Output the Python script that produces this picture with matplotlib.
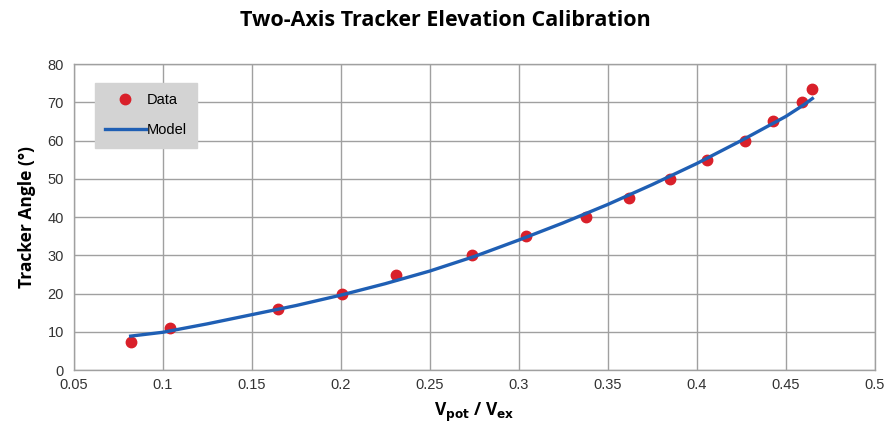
import matplotlib
matplotlib.use('Agg')
import matplotlib.pyplot as plt

data_ratio = [0.082, 0.104, 0.165, 0.201, 0.231, 0.274, 0.304, 0.338,
              0.362, 0.385, 0.406, 0.427, 0.443, 0.459, 0.465]
data_angle = [7.3, 11.0, 16.0, 20.0, 25.0, 30.0, 35.0, 40.0,
              45.0, 50.0, 55.0, 60.0, 65.0, 70.0, 73.5]

# model curve
model_ratio = [0.082, 0.1, 0.125, 0.15, 0.175, 0.2, 0.225, 0.25, 0.275,
               0.3, 0.325, 0.35, 0.375, 0.4, 0.425, 0.45, 0.46, 0.465]
model_angle = [8.9, 9.9, 12.1, 14.5, 16.9, 19.6, 22.6, 25.9, 29.7,
               34.0, 38.5, 43.3, 48.5, 54.0, 60.0, 66.3, 69.3, 71.0]

x_ticks = [0.05, 0.1, 0.15, 0.2, 0.25, 0.3, 0.35, 0.4, 0.45, 0.5]
x_labels = ['0.05', '0.1', '0.15', '0.2', '0.25', '0.3', '0.35', '0.4', '0.45', '0.5']
y_ticks = [0, 10, 20, 30, 40, 50, 60, 70, 80]

plt.rcParams['font.family'] = ['Liberation Sans', 'DejaVu Sans']

fig = plt.figure(figsize=(8.91, 4.36), dpi=100)
ax = fig.add_axes([0.0827, 0.151, 0.899, 0.702])

ax.plot(data_ratio, data_angle, 'o', color='#d9202a', markersize=7.5,
        label='Data', zorder=3)
ax.plot(model_ratio, model_angle, '-', color='#1f5fb4', linewidth=2.4,
        label='Model', zorder=4)

ax.set_xlim(0.05, 0.5)
ax.set_ylim(0, 80)
ax.set_xticks(x_ticks)
ax.set_xticklabels(x_labels)
ax.set_yticks(y_ticks)
ax.tick_params(length=0, labelsize=10.5, colors='#333333')
ax.tick_params(axis='x', pad=6)
ax.tick_params(axis='y', pad=7)
ax.grid(True, color='#a0a0a0', linewidth=1.0)
ax.set_axisbelow(True)
for s in ax.spines.values():
    s.set_color('#a0a0a0')
    s.set_linewidth(1.0)

ax.set_ylabel('Tracker Angle (°)', fontsize=12.5, fontweight='bold',
              family=['Open Sans', 'DejaVu Sans'], labelpad=8)
ax.set_xlabel(r'V$_\mathbf{pot}$ / V$_\mathbf{ex}$', fontsize=12.5,
              fontweight='bold', family=['Open Sans', 'DejaVu Sans'], labelpad=6)
fig.suptitle('Two-Axis Tracker Elevation Calibration', fontsize=15.5,
             fontweight='bold', family=['Open Sans', 'DejaVu Sans'], y=0.976)

leg = ax.legend(loc='upper left', bbox_to_anchor=(0.026, 0.938),
                fontsize=10.5, frameon=True, fancybox=False,
                handlelength=2.8, borderpad=0.7, labelspacing=1.1,
                handletextpad=0.1, borderaxespad=0)
leg.get_frame().set_facecolor('#d3d3d3')
leg.get_frame().set_edgecolor('#d3d3d3')
leg.get_frame().set_alpha(1.0)

fig.savefig('out.png', dpi=100)
